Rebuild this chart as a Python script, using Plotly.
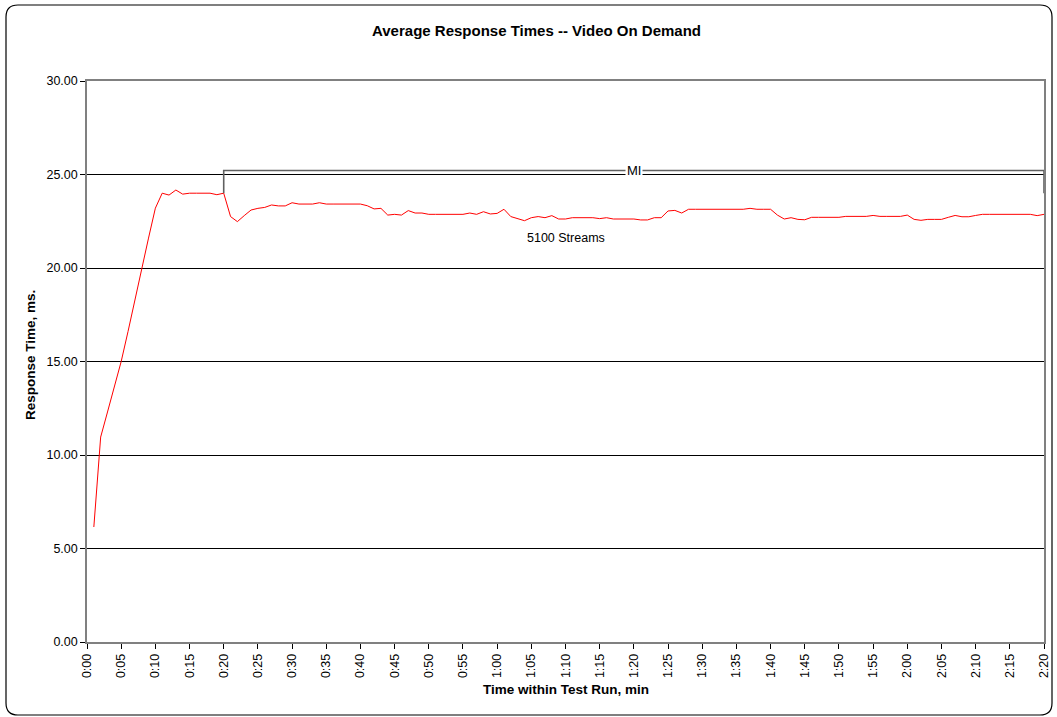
import plotly.graph_objects as go

# ---- data ----
minutes = list(range(1, 141))
response_ms = [
    6.15, 10.96, 12.3, 13.6, 15.0, 16.6, 18.3, 20.0, 21.6, 23.2,      # 1-10
    24.0, 23.9, 24.17, 23.95, 24.0, 24.0, 24.0, 24.0, 23.92, 24.0,    # 11-20
    22.75, 22.48, 22.8, 23.1, 23.19, 23.24, 23.37, 23.32, 23.32, 23.49,  # 21-30
    23.42, 23.42, 23.42, 23.49, 23.42, 23.42, 23.42, 23.42, 23.42, 23.42,  # 31-40
    23.33, 23.16, 23.19, 22.83, 22.87, 22.83, 23.07, 22.94, 22.94, 22.87,  # 41-50
    22.87, 22.87, 22.87, 22.87, 22.87, 22.94, 22.87, 23.01, 22.89, 22.92,  # 51-60
    23.14, 22.75, 22.65, 22.53, 22.69, 22.75, 22.69, 22.8, 22.62, 22.62,  # 61-70
    22.69, 22.69, 22.69, 22.69, 22.64, 22.69, 22.62, 22.62, 22.62, 22.62,  # 71-80
    22.57, 22.57, 22.69, 22.69, 23.05, 23.08, 22.94, 23.14, 23.14, 23.14,  # 81-90
    23.14, 23.14, 23.14, 23.14, 23.14, 23.14, 23.19, 23.14, 23.14, 23.14,  # 91-100
    22.83, 22.62, 22.69, 22.6, 22.58, 22.71, 22.71, 22.71, 22.71, 22.71,  # 101-110
    22.76, 22.76, 22.76, 22.76, 22.81, 22.76, 22.76, 22.76, 22.76, 22.83,  # 111-120
    22.6, 22.55, 22.6, 22.6, 22.6, 22.71, 22.81, 22.74, 22.74, 22.81,    # 121-130
    22.87, 22.87, 22.87, 22.87, 22.87, 22.87, 22.87, 22.87, 22.8, 22.87,  # 131-140
]
tick_minutes = list(range(0, 141, 5))
tick_labels = ["0:00", "0:05", "0:10", "0:15", "0:20", "0:25", "0:30", "0:35",
               "0:40", "0:45", "0:50", "0:55", "1:00", "1:05", "1:10", "1:15",
               "1:20", "1:25", "1:30", "1:35", "1:40", "1:45", "1:50", "1:55",
               "2:00", "2:05", "2:10", "2:15", "2:20"]
mi_start, mi_end = 20, 140
mi_level = 25.21
mi_foot = 24.0
series_label = "5100 Streams"
label_pos = (70, 21.6)

# ---- layout geometry (pixels) ----
W, H = 1057, 717
L, R, T, B = 87, 13, 81, 75
PW, PH = W - L - R, H - T - B

def px_x(px):
    return (px - L) / PW

def px_y(py):
    return (H - B - py) / PH

FONT = "Liberation Sans, Arial, sans-serif"

fig = go.Figure()
fig.add_trace(go.Scatter(
    x=minutes, y=response_ms, mode="lines",
    line=dict(color="#FF0000", width=1),
    showlegend=False, hoverinfo="x+y",
))

# MI bracket
fig.add_shape(type="path",
              path=f"M {mi_start} {mi_foot} L {mi_start} {mi_level} L {mi_end} {mi_level} L {mi_end} {mi_foot}",
              xref="x", yref="y", line=dict(color="#606060", width=1.6))

# rounded outer border
x0, x1 = px_x(6), px_x(1052)
y0, y1 = px_y(715), px_y(5)
rx, ry = 12 / PW, 12 / PH
border = (f"M {x0+rx} {y1} L {x1-rx} {y1} Q {x1} {y1} {x1} {y1-ry} "
          f"L {x1} {y0+ry} Q {x1} {y0} {x1-rx} {y0} L {x0+rx} {y0} "
          f"Q {x0} {y0} {x0} {y0+ry} L {x0} {y1-ry} Q {x0} {y1} {x0+rx} {y1} Z")
fig.add_shape(type="path", path=border, xref="paper", yref="paper",
              line=dict(color="#000000", width=1.2), layer="below")

annotations = [
    dict(text="<b>Average Response Times -- Video On Demand</b>", x=px_x(536), y=px_y(30),
         xref="paper", yref="paper", showarrow=False, font=dict(size=15, color="#000"),
         xanchor="center", yanchor="middle"),
    dict(text="<b>Response Time, ms.</b>", x=px_x(30), y=px_y(355), textangle=-90,
         xref="paper", yref="paper", showarrow=False, font=dict(size=13.5, color="#000"),
         xanchor="center", yanchor="middle"),
    dict(text="<b>Time within Test Run, min</b>", x=px_x(566), y=px_y(690),
         xref="paper", yref="paper", showarrow=False, font=dict(size=13.5, color="#000"),
         xanchor="center", yanchor="middle"),
    dict(text=series_label, x=label_pos[0], y=label_pos[1], xref="x", yref="y",
         showarrow=False, font=dict(size=12.5, color="#000"), xanchor="center", yanchor="middle"),
    dict(text="MI", x=(mi_start + mi_end) / 2, y=mi_level, xref="x", yref="y",
         showarrow=False, font=dict(size=13, color="#000"), bgcolor="#FFFFFF",
         xanchor="center", yanchor="middle", borderpad=1),
]

fig.update_layout(
    width=W, height=H, autosize=False,
    margin=dict(l=L, r=R, t=T, b=B, pad=0),
    paper_bgcolor="#FFFFFF", plot_bgcolor="#FFFFFF",
    font=dict(family=FONT, size=12.5, color="#000"),
    annotations=annotations,
    showlegend=False,
)
fig.update_xaxes(
    range=[0, 140], tickmode="array", tickvals=tick_minutes, ticktext=tick_labels,
    tickangle=-90, ticks="outside", ticklen=5, tickcolor="#000", tickwidth=1,
    showgrid=False, zeroline=False, automargin=False,
    showline=True, linecolor="#808080", linewidth=1.5, mirror=True,
    tickfont=dict(size=12.5, family=FONT),
)
fig.update_yaxes(
    range=[0, 30], dtick=5, tickformat=".2f", ticks="outside", ticklen=5,
    tickcolor="#000", tickwidth=1, automargin=False,
    showgrid=True, gridcolor="#000000", gridwidth=1, zeroline=False,
    showline=True, linecolor="#808080", linewidth=1.5, mirror=True,
    tickfont=dict(size=12.5, family=FONT),
)

fig.write_html(
    "out.html",
    config={"displayModeBar": False, "responsive": False},
    post_script="document.body.style.margin='0';document.body.style.overflow='hidden';",
)
